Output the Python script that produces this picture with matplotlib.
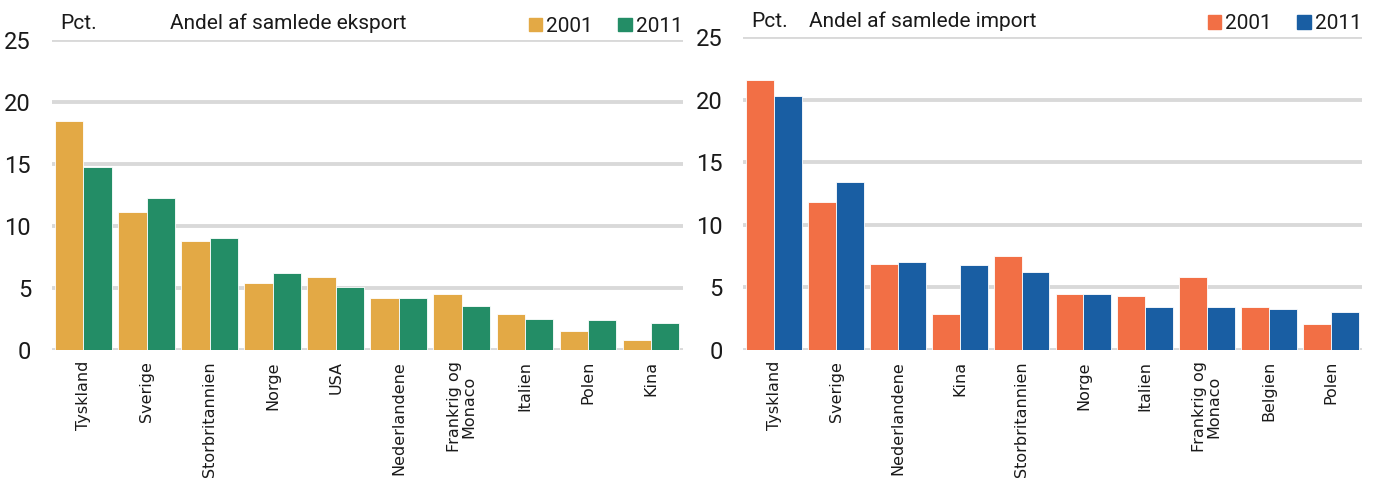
import matplotlib
matplotlib.use("Agg")
import matplotlib.pyplot as plt
from matplotlib.patches import Patch
import numpy as np

exp_cats = ["Tyskland", "Sverige", "Storbritannien", "Norge", "USA", "Nederlandene",
            "Frankrig og\nMonaco", "Italien", "Polen", "Kina"]
exp_2001 = [18.4, 11.1, 8.8, 5.4, 5.9, 4.2, 4.5, 2.9, 1.5, 0.8]
exp_2011 = [14.7, 12.2, 9.0, 6.2, 5.1, 4.2, 3.5, 2.5, 2.4, 2.2]

imp_cats = ["Tyskland", "Sverige", "Nederlandene", "Kina", "Storbritannien", "Norge",
            "Italien", "Frankrig og\nMonaco", "Belgien", "Polen"]
imp_2001 = [21.6, 11.8, 6.9, 2.9, 7.5, 4.5, 4.3, 5.8, 3.4, 2.1]
imp_2011 = [20.3, 13.4, 7.0, 6.8, 6.2, 4.5, 3.4, 3.4, 3.3, 3.0]

yticks = [0, 5, 10, 15, 20, 25]

NARROW = ["Roboto", "DejaVu Sans"]

fig = plt.figure(figsize=(13.74, 4.88), dpi=100)
axL = fig.add_axes([0.0378, 0.283, 0.459, 0.636])
axR = fig.add_axes([0.541, 0.283, 0.450, 0.641])

def draw(ax, cats, v1, v2, c1, c2, title, tx):
    x = np.arange(len(cats))
    w = 0.45
    ax.set_axisbelow(True)
    for yv in yticks:
        ax.axhline(yv, color="#D9D9D9", lw=2.8, zorder=0)
    ax.bar(x - w / 2, v1, w, color=c1, edgecolor="white", linewidth=0.6, zorder=2)
    ax.bar(x + w / 2, v2, w, color=c2, edgecolor="white", linewidth=0.6, zorder=2)
    ax.set_xlim(-0.5, len(cats) - 0.5)
    ax.set_ylim(0, 25)
    ax.set_yticks(yticks)
    ax.set_yticklabels([str(t) for t in yticks], family=NARROW, fontsize=17,
                       weight="normal", color="#1a1a1a")
    ax.set_xticks(x)
    ax.set_xticklabels(cats, rotation=90, fontsize=11.5, color="#1a1a1a",
                       va="top", ha="center", linespacing=0.95)
    ax.tick_params(axis="both", length=0)
    ax.tick_params(axis="y", pad=15)
    ax.tick_params(axis="x", pad=8)
    for s in ax.spines.values():
        s.set_visible(False)
    ax.text(0.013, 1.02, "Pct.", transform=ax.transAxes, family=NARROW,
            fontsize=15, ha="left", va="bottom", color="#1a1a1a")
    ax.text(tx, 1.02, title, transform=ax.transAxes, family=NARROW,
            fontsize=15, ha="center", va="bottom", color="#1a1a1a")
    handles = [Patch(color=c1, label="2001"), Patch(color=c2, label="2011")]
    leg = ax.legend(handles=handles, loc="lower right", bbox_to_anchor=(1.0, 1.012),
                    ncol=2, frameon=False, prop={"family": NARROW, "size": 15},
                    handlelength=0.65, handleheight=0.65, handletextpad=0.2,
                    columnspacing=1.2, borderaxespad=0.0, borderpad=0.0)
    for t in leg.get_texts():
        t.set_color("#1a1a1a")

draw(axL, exp_cats, exp_2001, exp_2011, "#E3A945", "#238D66",
     "Andel af samlede eksport", 0.374)
draw(axR, imp_cats, imp_2001, imp_2011, "#F26F45", "#195EA3",
     "Andel af samlede import", 0.29)

fig.savefig("out.png", dpi=100)
